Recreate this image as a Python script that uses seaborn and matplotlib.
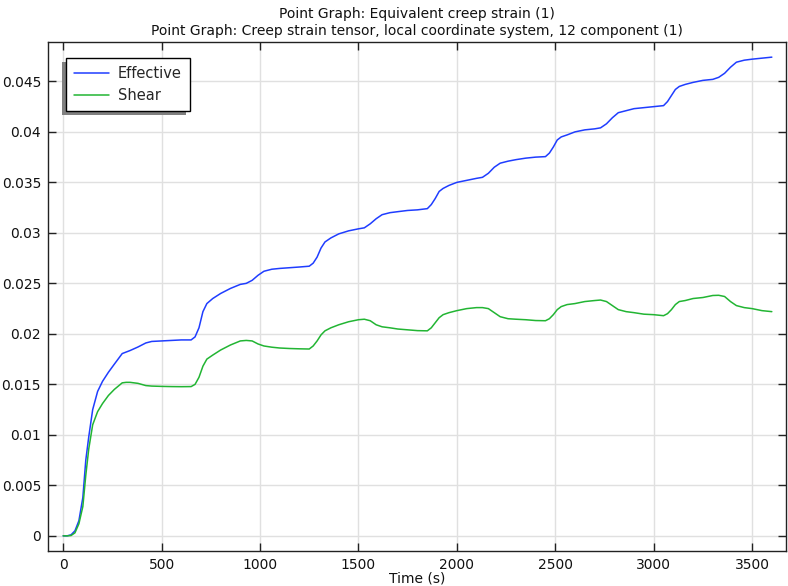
import matplotlib
matplotlib.use("Agg")
import matplotlib.pyplot as plt
from matplotlib.patches import Rectangle
from matplotlib.transforms import IdentityTransform
import numpy as np
import pandas as pd
import seaborn as sns

# Time samples (s)
time_s = [0, 20, 40, 60, 80, 100, 115, 130, 150, 175, 200, 230, 260, 300, 320, 340,
          380, 420, 450, 500, 550, 600, 650, 670, 690, 710, 730, 760, 800, 850, 900,
          930, 960, 990, 1020, 1060, 1100, 1150, 1200, 1250, 1270, 1290, 1310, 1330,
          1360, 1400, 1450, 1500, 1530, 1560, 1590, 1620, 1660, 1700, 1750, 1800,
          1850, 1870, 1890, 1910, 1930, 1960, 2000, 2050, 2100, 2130, 2160, 2190,
          2220, 2260, 2300, 2350, 2400, 2450, 2470, 2490, 2510, 2530, 2560, 2600,
          2650, 2700, 2730, 2760, 2790, 2820, 2860, 2900, 2950, 3000, 3050, 3070,
          3090, 3110, 3130, 3160, 3200, 3250, 3300, 3330, 3360, 3390, 3420, 3460,
          3500, 3550, 3600]

# Equivalent creep strain
effective = [0, 0, 0.0001, 0.0005, 0.0015, 0.0038, 0.0075, 0.0098, 0.0125, 0.0143,
             0.0153, 0.0162, 0.0170, 0.01805, 0.0182, 0.01835, 0.0187, 0.0191,
             0.01925, 0.0193, 0.01935, 0.0194, 0.0194, 0.0197, 0.0206, 0.0222,
             0.0230, 0.0235, 0.0240, 0.0245, 0.0249, 0.0250, 0.0253, 0.0258, 0.0262,
             0.0264, 0.02648, 0.02655, 0.02662, 0.0267, 0.0270, 0.0276, 0.0285,
             0.0291, 0.0295, 0.0299, 0.0302, 0.0304, 0.0305, 0.0309, 0.0314, 0.0318,
             0.0320, 0.0321, 0.03222, 0.03228, 0.0324, 0.0328, 0.0334, 0.0341,
             0.0344, 0.0347, 0.0350, 0.0352, 0.0354, 0.0355, 0.0359, 0.0365, 0.0369,
             0.0371, 0.03725, 0.0374, 0.0375, 0.03755, 0.0379, 0.0385, 0.0392,
             0.0395, 0.0397, 0.0400, 0.0402, 0.0403, 0.0404, 0.0408, 0.0414, 0.0419,
             0.0421, 0.0423, 0.0424, 0.0425, 0.0426, 0.0430, 0.0436, 0.0442, 0.0445,
             0.0447, 0.0449, 0.0451, 0.0452, 0.0454, 0.0458, 0.0464, 0.0469, 0.0471,
             0.0472, 0.0473, 0.0474]

# Creep strain tensor, local coordinate system, 12 component
shear = [0, 0, 0.00003, 0.0003, 0.0012, 0.0029, 0.0060, 0.0086, 0.0110, 0.0123,
         0.0131, 0.0139, 0.0145, 0.01515, 0.0152, 0.0152, 0.0151, 0.01488, 0.01483,
         0.0148, 0.01478, 0.01477, 0.01478, 0.0150, 0.0157, 0.0168, 0.0175, 0.0179,
         0.0184, 0.0189, 0.0193, 0.01935, 0.0193, 0.0190, 0.0188, 0.01868, 0.0186,
         0.01855, 0.01852, 0.0185, 0.0188, 0.0193, 0.0199, 0.0203, 0.0206, 0.0209,
         0.0212, 0.0214, 0.02145, 0.0213, 0.0209, 0.0207, 0.0206, 0.02048, 0.0204,
         0.02032, 0.0203, 0.0206, 0.0211, 0.0216, 0.0219, 0.0221, 0.0223, 0.0225,
         0.0226, 0.0226, 0.0225, 0.0221, 0.0217, 0.0215, 0.02145, 0.0214, 0.02132,
         0.0213, 0.0215, 0.0219, 0.0224, 0.0227, 0.0229, 0.0230, 0.0232, 0.0233,
         0.02335, 0.0232, 0.0228, 0.0224, 0.0222, 0.0221, 0.02195, 0.0219, 0.0218,
         0.0220, 0.0224, 0.0229, 0.0232, 0.0233, 0.0235, 0.0236, 0.0238, 0.02382,
         0.0237, 0.0232, 0.0228, 0.0226, 0.0225, 0.0223, 0.0222]

series_names = ["Effective", "Shear"]
series_colors = ["#1f3dff", "#22b533"]

x_ticks = [0, 500, 1000, 1500, 2000, 2500, 3000, 3500]
y_ticks = [0, 0.005, 0.01, 0.015, 0.02, 0.025, 0.03, 0.035, 0.04, 0.045]
y_tick_labels = ["0", "0.005", "0.01", "0.015", "0.02", "0.025", "0.03",
                 "0.035", "0.04", "0.045"]

title_lines = ["Point Graph: Equivalent creep strain (1)",
               "Point Graph: Creep strain tensor, local coordinate system, 12 component (1)"]
x_label = "Time (s)"

df = pd.concat([
    pd.DataFrame({"Time": time_s, "Strain": effective, "Series": series_names[0]}),
    pd.DataFrame({"Time": time_s, "Strain": shear, "Series": series_names[1]}),
])

sns.set_theme(style="ticks")
plt.rcParams["font.family"] = ["DejaVu Sans"]

fig = plt.figure(figsize=(7.88, 5.86), dpi=100)
ax = fig.add_axes([48 / 788, 1 - 551 / 586, (786 - 48) / 788, (551 - 42) / 586])

sns.lineplot(data=df, x="Time", y="Strain", hue="Series",
             palette=dict(zip(series_names, series_colors)),
             linewidth=1.1, ax=ax, legend=False, estimator=None, sort=False)

ax.set_xlim(-77, 3672)
ax.set_ylim(-0.0015, 0.0489)
ax.set_xticks(x_ticks)
ax.set_xticklabels([str(v) for v in x_ticks])
ax.set_yticks(y_ticks)
ax.set_yticklabels(y_tick_labels)

ax.grid(True, color="#e0e0e0", linewidth=1.0)
ax.set_axisbelow(True)
for side in ["left", "right", "top", "bottom"]:
    ax.spines[side].set_visible(True)
    ax.spines[side].set_color("#222222")
    ax.spines[side].set_linewidth(1.0)
ax.tick_params(direction="in", length=6, width=1.0, color="#222222",
               top=True, right=True, labelsize=10, labelcolor="#111111", pad=5)

ax.set_xlabel(x_label, fontsize=10, labelpad=0, color="#111111")
ax.set_ylabel("")
ax.set_title("\n".join(title_lines), fontsize=10, color="#111111", pad=5,
             linespacing=1.25)

handles = [plt.Line2D([], [], color=c, linewidth=1.1) for c in series_colors]
leg = ax.legend(handles, series_names, loc="upper left",
                bbox_to_anchor=(18 / 738, 1 - 16 / 509), fontsize=10.5,
                frameon=True, fancybox=False, framealpha=1, edgecolor="black",
                handlelength=2.4, handletextpad=0.6, labelspacing=0.5,
                borderpad=0.55, borderaxespad=0)
leg.get_frame().set_linewidth(1.0)
leg.set_zorder(6)

# Offset drop shadow behind the legend box
fig.canvas.draw()
bb = leg.get_window_extent()
shadow = Rectangle((bb.x0 - 4, bb.y0 - 4), bb.width, bb.height,
                   transform=IdentityTransform(), facecolor="#808080",
                   edgecolor="none", zorder=5.5, clip_on=False)
ax.add_patch(shadow)

fig.savefig("out.png", dpi=100)
